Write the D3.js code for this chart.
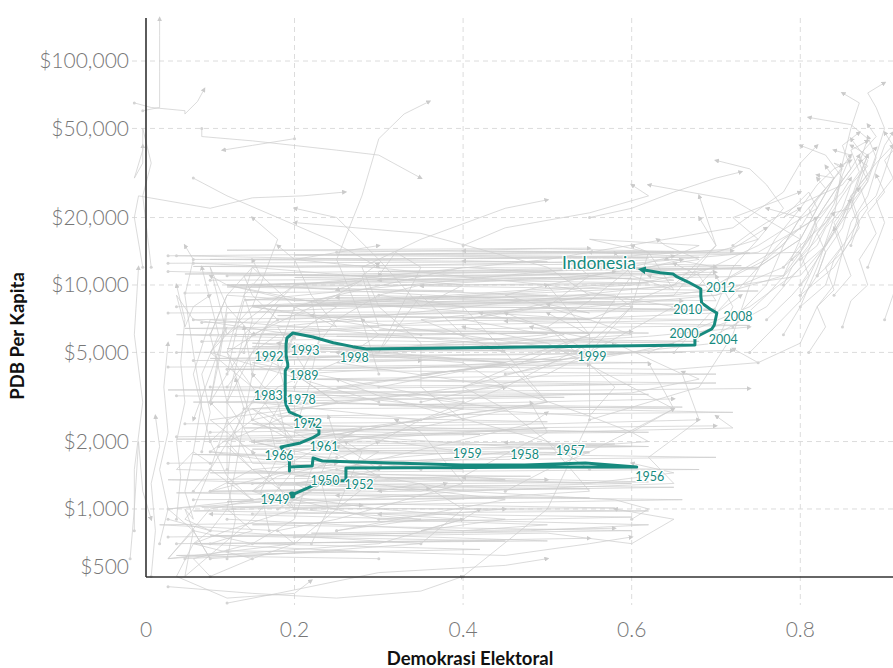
<!DOCTYPE html>
<html><head><meta charset="utf-8">
<script src="https://cdn.jsdelivr.net/npm/d3@7"></script>
<style>
html,body{margin:0;padding:0;background:#fff;}
svg{display:block;font-family:Lato,"Open Sans",sans-serif;}
</style></head>
<body><svg id="c" width="893" height="668"></svg>
<script>
// ---------- DATA ----------
const yTicks = [500, 1000, 2000, 5000, 10000, 20000, 50000, 100000];
const yTickLabels = ["$500","$1,000","$2,000","$5,000","$10,000","$20,000","$50,000","$100,000"];
const xTicks = [0, 0.2, 0.4, 0.6, 0.8];
const xTickLabels = ["0","0.2","0.4","0.6","0.8"];

const indoYears = d3.range(1949, 2019);
const indoDemo = [0.197,0.222,0.253,0.261,0.261,0.408,0.515,0.606,0.545,0.473,0.399,0.233,0.222,0.221,0.194,0.194,0.194,0.184,0.207,0.221,0.229,0.229,0.221,0.207,0.194,0.190,0.189,0.189,0.189,0.189,0.189,0.189,0.189,0.189,0.189,0.189,0.189,0.190,0.192,0.192,0.191,0.190,0.190,0.190,0.191,0.198,0.222,0.246,0.269,0.285,0.675,0.675,0.681,0.688,0.695,0.698,0.699,0.700,0.701,0.693,0.683,0.682,0.682,0.678,0.667,0.654,0.649,0.634,0.622,0.611];
const indoGdp = [1155,1271,1338,1338,1524,1532,1540,1540,1605,1572,1572,1638,1689,1556,1540,1478,1638,1892,1971,2075,2162,2253,2421,2575,2710,2913,3067,3196,3330,3470,3578,3728,3885,3925,4007,4090,4132,4217,4305,4439,4626,4870,5179,5452,5799,6105,5860,5526,5305,5179,5398,5799,5981,6168,6361,6628,6907,7197,7499,7814,8311,8932,9597,9797,10310,10857,11197,11348,11548,11727];
const labelYears = [1949,1950,1952,1956,1957,1958,1959,1961,1966,1972,1978,1983,1989,1992,1993,1998,1999,2000,2004,2008,2010,2012];

// rich democracies
const richPaths = [
 [[0.72,15000],[0.74,17000],[0.76,19000],[0.80,23000],[0.85,28000],[0.87,35000],[0.88,45000],[0.86,52000],[0.81,56000]],
 [[0.82,11000],[0.83,14000],[0.85,18000],[0.86,24000],[0.88,30000],[0.89,38000],[0.90,50000],[0.89,62000],[0.88,72000],[0.90,80000]],
 [[0.80,8000],[0.83,10000],[0.84,13000],[0.86,17000],[0.88,22000],[0.87,28000],[0.89,35000],[0.91,42000]],
 [[0.78,10000],[0.79,12000],[0.81,15000],[0.82,19000],[0.84,24000],[0.85,31000],[0.86,38000],[0.84,40000]],
 [[0.70,7500],[0.72,9000],[0.75,12000],[0.78,16000],[0.82,20000],[0.84,26000],[0.86,33000],[0.87,38000]],
 [[0.66,6000],[0.74,8000],[0.79,11000],[0.83,15000],[0.85,20000],[0.87,28000],[0.88,36000],[0.86,45000]],
 [[0.55,2500],[0.68,3500],[0.72,6000],[0.74,10000],[0.77,16000],[0.80,22000],[0.82,28000],[0.84,33000],[0.86,36000]],
 [[0.62,5000],[0.72,7000],[0.76,10000],[0.78,15000],[0.80,20000],[0.83,27000],[0.85,33000],[0.84,35000],[0.85,34000]],
 [[0.80,9000],[0.84,12000],[0.86,16000],[0.87,21000],[0.89,25000],[0.90,32000],[0.91,42000],[0.90,48000]],
 [[0.78,12000],[0.80,15000],[0.83,19000],[0.85,25000],[0.87,32000],[0.86,40000],[0.88,44000]],
 [[0.79,13000],[0.81,16000],[0.82,20000],[0.84,26000],[0.86,33000],[0.85,42000],[0.87,48000]],
 [[0.80,10000],[0.82,13000],[0.84,17000],[0.86,22000],[0.88,29000],[0.89,37000],[0.88,46000]],
 [[0.70,6000],[0.76,8000],[0.80,12000],[0.82,17000],[0.84,23000],[0.85,30000],[0.83,38000],[0.80,42000]],
 [[0.72,6500],[0.76,9000],[0.79,12000],[0.82,16000],[0.84,21000],[0.86,22000],[0.87,30000],[0.88,38000]],
 [[0.78,6000],[0.80,8000],[0.82,12000],[0.84,20000],[0.85,35000],[0.86,50000],[0.87,65000],[0.85,72000]],
 [[0.80,13000],[0.82,15000],[0.83,18000],[0.85,22000],[0.86,28000],[0.88,34000],[0.87,36000]],
 [[0.82,11000],[0.85,14000],[0.86,19000],[0.88,25000],[0.89,33000],[0.90,42000],[0.91,48000]],
 [[0.80,9000],[0.82,13000],[0.84,18000],[0.86,24000],[0.87,31000],[0.88,38000],[0.86,42000]],
 [[0.84,9000],[0.86,11000],[0.85,14000],[0.87,18000],[0.86,23000],[0.88,29000],[0.87,35000],[0.89,41000]],
 [[0.76,7000],[0.79,9000],[0.81,11000],[0.80,14000],[0.82,18000],[0.81,22000],[0.83,27000],[0.82,30000]],
 [[0.88,12000],[0.89,15000],[0.90,19000],[0.89,24000],[0.91,30000],[0.90,36000],[0.92,44000]],
 [[0.74,5000],[0.77,6500],[0.80,8500],[0.82,11000],[0.83,14000],[0.82,17000],[0.84,21000]],
 [[0.86,15000],[0.87,19000],[0.86,25000],[0.88,31000],[0.87,38000],[0.89,46000],[0.88,52000]],
 [[0.75,4500],[0.80,5500],[0.82,8000],[0.84,10000],[0.85,14000],[0.84,18000]],
 [[0.90,7000],[0.91,9000],[0.92,12000],[0.91,16000],[0.93,21000],[0.92,27000],[0.93,34000]],
 [[0.85,6500],[0.86,8500],[0.88,10000],[0.87,13000],[0.89,17000],[0.88,21000],[0.90,26000],[0.89,31000]],
 [[0.81,5000],[0.83,6500],[0.82,8000],[0.84,9500],[0.83,12000],[0.85,15000],[0.84,19000],[0.86,24000]],
 [[0.92,14000],[0.93,18000],[0.92,23000],[0.94,29000],[0.93,37000],[0.94,45000]]
];

// transitions and autocracies
const otherPaths = [
 [[0.12,4000],[0.13,6000],[0.14,8500],[0.55,12000],[0.75,14000],[0.80,18000],[0.82,24000],[0.84,30000],[0.82,31000]],
 [[0.10,3000],[0.11,4500],[0.12,7500],[0.65,9000],[0.80,11000],[0.83,15000],[0.85,20000],[0.86,25000],[0.87,27000]],
 [[0.45,3500],[0.55,5500],[0.60,8000],[0.15,10000],[0.75,12000],[0.80,16000],[0.82,22000],[0.81,26000],[0.78,20000],[0.80,22000]],
 [[0.25,1000],[0.30,1400],[0.20,2200],[0.22,3800],[0.18,6500],[0.65,10000],[0.75,15000],[0.82,22000],[0.84,30000],[0.86,38000]],
 [[0.12,1500],[0.12,3000],[0.14,6000],[0.20,10000],[0.50,13000],[0.72,18000],[0.78,26000],[0.80,35000],[0.82,42000]],
 [[0.65,5000],[0.70,8000],[0.72,12000],[0.75,16000],[0.78,22000],[0.76,28000],[0.74,33000],[0.70,36000]],
 [[0.18,7000],[0.15,9000],[0.14,11000],[0.75,12000],[0.80,16000],[0.82,22000],[0.84,30000],[0.83,34000]],
 [[0.15,4000],[0.16,6000],[0.18,8000],[0.70,9000],[0.78,11000],[0.80,16000],[0.72,24000],[0.62,28000]],
 [[0.45,4000],[0.60,5000],[0.65,5500],[0.15,6000],[0.12,8000],[0.70,10000],[0.78,15000],[0.80,20000],[0.76,22000]],
 [[0.60,8000],[0.58,9000],[0.20,8500],[0.12,10000],[0.70,10000],[0.76,13000],[0.80,18000],[0.82,20000]],
 [[0.35,6000],[0.15,8000],[0.50,9000],[0.12,10000],[0.60,11000],[0.65,9500],[0.62,14000],[0.55,16000],[0.68,15000],[0.64,13000]],
 [[0.15,10000],[0.78,11000],[0.80,14000],[0.82,20000],[0.85,26000],[0.86,30000]],
 [[0.30,2000],[0.35,2500],[0.40,2800],[0.15,3500],[0.12,5000],[0.18,7000],[0.55,8000],[0.70,9000],[0.78,12000],[0.80,14000],[0.65,13500],[0.55,14000]],
 [[0.20,3500],[0.22,5000],[0.25,7000],[0.30,9000],[0.35,10000],[0.55,11000],[0.68,13000],[0.64,15000],[0.63,16000]],
 [[0.35,2500],[0.50,3000],[0.45,4500],[0.25,5000],[0.50,6000],[0.40,7000],[0.55,9000],[0.50,12000],[0.35,17000],[0.20,19000]],
 [[0.60,900],[0.62,1000],[0.58,1100],[0.40,1200],[0.65,1300],[0.62,1700],[0.68,2500],[0.66,4000],[0.58,5500],[0.48,6500]],
 [[0.08,800],[0.07,1000],[0.08,900],[0.07,1200],[0.08,1800],[0.09,3000],[0.08,5000],[0.07,9000],[0.08,13000],[0.07,15000]],
 [[0.45,1200],[0.50,1500],[0.55,1800],[0.20,2200],[0.15,2400],[0.60,2200],[0.55,2600],[0.58,3500],[0.50,6500],[0.42,7500]],
 [[0.20,1200],[0.30,1500],[0.15,2000],[0.45,2800],[0.25,3500],[0.55,5000],[0.65,8000],[0.50,10000],[0.20,13000],[0.30,15000]],
 [[0.30,900],[0.20,1100],[0.15,1500],[0.40,1800],[0.20,2300],[0.15,2800],[0.45,3500],[0.25,4500],[0.35,4600]],
 [[0.25,800],[0.45,1100],[0.15,1500],[0.12,1900],[0.50,2300],[0.15,2000],[0.20,1800],[0.50,3000],[0.45,5000],[0.42,5300]],
 [[0.15,1100],[0.12,1400],[0.10,2000],[0.15,3000],[0.18,4000],[0.20,6000],[0.25,8000],[0.12,10000],[0.10,11000]],
 [[0.15,2500],[0.12,5000],[0.15,12000],[0.20,8000],[0.25,6500],[0.22,9000],[0.20,13000],[0.18,15000]],
 [[0.18,1000],[0.22,1200],[0.20,1300],[0.25,1400],[0.45,1350],[0.40,1400],[0.50,2200],[0.48,3000]],
 [[0.25,1500],[0.20,1400],[0.60,1300],[0.10,1200],[0.20,1500],[0.55,1800],[0.65,2800],[0.62,4500]],
 [[0.35,3000],[0.50,4000],[0.55,5000],[0.50,6500],[0.55,8500],[0.60,12000],[0.65,13500]],
 [[0.30,3500],[0.45,4500],[0.15,5500],[0.60,5000],[0.35,4000],[0.70,5500],[0.72,8000],[0.70,11000]],
 [[0.20,8000],[0.60,10000],[0.70,12000],[0.68,10000],[0.55,11000],[0.40,12000],[0.25,9000],[0.15,6000]],
 [[0.20,2000],[0.35,2500],[0.15,3000],[0.65,2800],[0.60,3500],[0.50,5500],[0.40,6500]],
 [[0.25,800],[0.35,900],[0.20,1000],[0.55,1200],[0.50,2000],[0.30,3200],[0.25,3800]],
 [[0.10,800],[0.12,1000],[0.13,1500],[0.14,2500],[0.15,4000],[0.14,6500]],
 [[0.10,500],[0.08,600],[0.15,700],[0.20,900],[0.22,1500],[0.30,2000]],
 [[0.55,1500],[0.50,2000],[0.45,2800],[0.40,3500],[0.55,6000],[0.50,10000],[0.58,11500]],
 [[0.40,2500],[0.35,3500],[0.35,5500],[0.30,8000],[0.28,12000],[0.35,16000],[0.45,22000],[0.50,24000]],
 [[0.22,4000],[0.23,6000],[0.22,8500],[0.25,9000],[0.70,8500],[0.68,11000],[0.65,12500]],
 [[0.10,6000],[0.12,9000],[0.15,12000],[0.40,10000],[0.35,8000],[0.30,13000],[0.25,20000],[0.20,22000]],
 [[0.12,3000],[0.10,6000],[0.12,9000],[0.55,7000],[0.65,10000],[0.70,15000],[0.68,20000]],
 [[0.30,9000],[0.40,8000],[0.45,5000],[0.35,7000],[0.50,8000],[0.55,7500],[0.50,8200]],
 [[0.10,1800],[0.15,2500],[0.18,3500],[0.25,4500],[0.30,6000],[0.28,7000]],
 [[0.12,3500],[0.15,5000],[0.18,6000],[0.30,6500],[0.28,11000],[0.30,12500]],
 [[0.05,900],[0.10,800],[0.08,700],[0.06,500],[0.12,400],[0.20,420],[0.22,480]],
 [[0.15,600],[0.20,700],[0.18,800],[0.25,900],[0.40,1300],[0.35,2200],[0.32,2500]],
 [[0.35,1500],[0.30,1600],[0.40,1700],[0.45,1800],[0.62,2000],[0.60,2200],[0.65,2800]],
 [[0.30,1500],[0.25,2000],[0.28,2300],[0.22,1800],[0.18,1500],[0.15,1200],[0.18,1400],[0.25,1600]],
 [[0.25,3000],[0.20,4000],[0.15,5000],[0.45,5500],[0.52,6000],[0.45,7500]],
 [[0.20,2000],[0.15,2500],[0.25,3000],[0.55,2600],[0.45,3500],[0.40,4500],[0.25,5000]],
 [[0.15,3000],[0.18,5000],[0.20,8000],[0.25,9000],[0.28,10500],[0.25,9500]],
 [[0.20,2000],[0.15,3500],[0.10,5000],[0.12,6500],[0.10,4000],[0.08,2500]],
 [[0.10,3000],[0.12,8000],[0.10,12000],[0.12,6000],[0.20,10000],[0.35,11000],[0.30,10500]],
 [[0.10,1600],[0.08,1800],[0.06,1500],[0.40,1400],[0.20,1300],[0.35,1200],[0.38,1300]],
 [[0.20,1000],[0.18,1100],[0.15,1200],[0.30,1000],[0.45,900],[0.35,800],[0.40,900]],
 [[0.05,1000],[0.08,800],[0.10,600],[0.35,700],[0.40,1000],[0.35,1300],[0.30,1200]],
 [[0.15,700],[0.08,800],[0.05,600],[0.20,700],[0.25,1000],[0.28,1800],[0.26,2000]],
 [[0.35,700],[0.10,800],[0.07,900],[0.08,1000],[0.10,1500],[0.15,3000],[0.45,4500],[0.18,5500]],
 [[0.10,600],[0.08,800],[0.07,500],[0.15,900],[0.20,1500],[0.18,3000],[0.15,4000]],
 [[0.40,3000],[0.15,4500],[0.60,6000],[0.55,7000],[0.45,9000],[0.50,10000]],
 [[0.10,3000],[0.12,4000],[0.15,6000],[0.40,7000],[0.50,8000],[0.55,11000],[0.53,12500]],
 [[0.15,2000],[0.12,3000],[0.15,5000],[0.18,8000],[0.65,10500],[0.62,11000]],
 [[0.15,1800],[0.10,2500],[0.40,3500],[0.55,5000],[0.60,8000],[0.62,14000],[0.60,15000]],
 [[0.30,3000],[0.10,5000],[0.15,8000],[0.65,9000],[0.70,15000],[0.68,25000]],
 [[0.10,2000],[0.08,4000],[0.10,7000],[0.55,5000],[0.15,8000],[0.18,16000],[0.15,20000]],
 [[0.40,500],[0.50,1000],[0.55,2500],[0.55,6000],[0.60,11000],[0.58,14000]],
 [[0.20,6000],[0.08,7000],[0.06,9000],[0.07,6500],[0.08,8000],[0.10,9000]],
 [[0.08,1200],[0.10,1500],[0.15,1100],[0.05,1000],[0.20,1100],[0.30,1800],[0.25,1900]],
 [[0.30,1400],[0.10,1800],[0.40,1500],[0.15,1600],[0.12,2500],[0.10,3000]],
 [[0.10,1200],[0.15,1500],[0.12,2000],[0.18,2500],[0.20,2700]],
 [[0.10,1500],[0.12,2500],[0.15,2800],[0.20,2000],[0.35,2500],[0.45,3500]],
 [[0.20,1200],[0.10,1000],[0.05,600],[0.30,700],[0.40,900],[0.42,1000]],
 [[0.12,900],[0.40,800],[0.50,850],[0.30,900],[0.45,1000]],
 [[0.10,700],[0.15,800],[0.12,1000],[0.40,1200],[0.25,1500],[0.48,2400],[0.50,2700]],
 [[0.10,500],[0.15,600],[0.08,700],[0.12,800],[0.20,1000],[0.15,1800]],
 [[0.25,3000],[0.20,4000],[0.45,4500],[0.55,6000],[0.50,7500]],
 [[0.40,6000],[0.35,9000],[0.30,5000],[0.35,12000],[0.32,14000],[0.30,11000]],
 [[0.30,4000],[0.28,7000],[0.25,13000],[0.28,25000],[0.30,45000],[0.33,58000],[0.36,66000]],
 [[0.02,60000],[0.04,62000],[0.04,90000],[0.04,130000],[0.04,155000]],
 [[0.01,65000],[0.03,62000],[0.07,60000],[0.07,58000],[0.085,66000],[0.093,75000]],
 [[0.09,50000],[0.09,46000],[0.15,44000],[0.25,40000],[0.30,38000],[0.35,30000]],
 [[0.20,45000],[0.15,42000],[0.115,40000]],
 [[0.08,30000],[0.12,25000],[0.18,20000],[0.24,16000],[0.30,12000]],
 [[0.02,12000],[0.01,20000],[0.015,25000],[0.10,22000],[0.15,24500],[0.21,25000],[0.26,26000]],
 [[0.03,12000],[0.02,25000],[0.03,35000],[0.02,50000],[0.02,40000],[0.01,30000],[0.02,35000],[0.02,42000]],
 [[0.01,800],[0.01,1500],[0.02,3000],[0.01,6000],[0.015,12000]],
 [[0.005,600],[0.01,1000],[0.015,2000],[0.02,1200],[0.03,900]],
 [[0.55,20000],[0.60,22000],[0.65,26000],[0.70,30000],[0.73,32000]],
 [[0.40,15000],[0.45,18000],[0.55,21000],[0.62,25000],[0.60,28000]],
 [[0.25,14000],[0.50,14500],[0.70,14000],[0.75,16000],[0.72,20000],[0.80,26000]],
 [[0.06,13500],[0.30,13000],[0.60,13500],[0.72,14500],[0.76,18000]],
 [[0.08,12500],[0.20,12000],[0.45,12500],[0.65,13000],[0.70,12000]],
 [[0.05,11500],[0.25,11000],[0.50,11500],[0.62,12000],[0.66,13000]],
 [[0.07,600],[0.25,650],[0.45,620],[0.55,700],[0.60,750]],
 [[0.05,450],[0.15,420],[0.25,400],[0.35,430],[0.40,500]],
 [[0.12,380],[0.18,420],[0.30,520],[0.45,560],[0.50,600]],
 [[0.20,750],[0.50,780],[0.60,700],[0.65,900],[0.58,1000]],
 [[0.15,1300],[0.35,1350],[0.55,1300],[0.65,1450],[0.60,1600]],
 [[0.10,2200],[0.30,2250],[0.50,2200],[0.72,2300],[0.70,2600]],
 [[0.12,4200],[0.40,4300],[0.65,4200],[0.75,4500],[0.72,5200]],
 [[0.08,7000],[0.30,7200],[0.55,7100],[0.70,7500],[0.73,9000]],
 [[0.06,3200],[0.35,3100],[0.60,3300],[0.68,3800],[0.66,4100]],
 [[0.09,5600],[0.22,5700],[0.48,5500],[0.62,5900],[0.74,6500]],
 [[0.06,700],[0.45,720],[0.10,760],[0.60,800],[0.15,850],[0.40,900],[0.30,950]],
 [[0.08,1100],[0.55,1120],[0.20,1180],[0.65,1250],[0.12,1300],[0.50,1350]],
 [[0.05,1600],[0.35,1650],[0.70,1700],[0.25,1800],[0.60,1900],[0.15,2000]],
 [[0.07,2400],[0.50,2450],[0.18,2600],[0.72,2700],[0.30,2900],[0.65,3100]],
 [[0.10,3500],[0.60,3600],[0.20,3800],[0.70,4000],[0.12,4200],[0.55,4400]],
 [[0.06,5000],[0.45,5100],[0.15,5300],[0.68,5600],[0.25,5900],[0.60,6200]],
 [[0.09,6800],[0.55,7000],[0.18,7300],[0.70,7700],[0.30,8100],[0.66,8500]],
 [[0.07,9200],[0.40,9400],[0.12,9800],[0.62,10200],[0.20,10800],[0.70,11400]],
 [[0.05,12500],[0.50,12700],[0.10,13000],[0.68,13300],[0.25,13700],[0.72,14200]],
 [[0.12,650],[0.30,640],[0.08,700],[0.50,720],[0.22,780],[0.58,820]],
 [[0.15,950],[0.62,980],[0.09,1020],[0.40,1060],[0.66,1100],[0.25,1150]],
 [[0.20,1300],[0.05,1350],[0.48,1400],[0.10,1450],[0.68,1500],[0.30,1550]],
 [[0.11,1900],[0.58,1950],[0.06,2050],[0.42,2150],[0.20,2250],[0.70,2350]],
 [[0.14,2800],[0.66,2850],[0.08,3000],[0.52,3150],[0.22,3300],[0.74,3450]],
 [[0.05,4300],[0.30,4350],[0.62,4500],[0.10,4700],[0.50,4900],[0.72,5100]],
 [[0.13,6000],[0.55,6100],[0.07,6400],[0.45,6700],[0.70,7000],[0.22,7300]],
 [[0.06,8000],[0.65,8200],[0.14,8600],[0.52,9000],[0.75,9400],[0.35,9900]],
 [[0.10,10500],[0.60,10700],[0.07,11200],[0.45,11700],[0.73,12200],[0.40,12800]],
 [[0.05,13500],[0.35,13800],[0.65,14000],[0.12,14300],[0.55,14600]],
 [[0.18,800],[0.04,850],[0.35,880],[0.60,920],[0.08,980],[0.28,1040]],
 [[0.10,1200],[0.30,1220],[0.55,1230],[0.18,1280],[0.62,1320],[0.40,1380]],
 [[0.25,1700],[0.08,1750],[0.55,1780],[0.15,1850],[0.62,1900],[0.45,1980]],
 [[0.06,2100],[0.28,2150],[0.62,2200],[0.14,2300],[0.50,2400],[0.68,2500]],
 [[0.16,3200],[0.62,3250],[0.05,3400],[0.40,3500],[0.70,3650],[0.20,3800]],
 [[0.08,4600],[0.52,4650],[0.18,4800],[0.66,5000],[0.12,5200],[0.58,5400]],
 [[0.20,5800],[0.06,6000],[0.62,6100],[0.30,6300],[0.74,6600],[0.45,6900]],
 [[0.05,7500],[0.42,7600],[0.70,7800],[0.15,8100],[0.58,8400],[0.25,8800]],
 [[0.12,11000],[0.70,11100],[0.30,11500],[0.75,11800],[0.08,12100],[0.60,12400]],
 [[0.08,13000],[0.62,13200],[0.20,13600],[0.74,13900],[0.40,14200]],
 [[0.30,600],[0.06,620],[0.42,660],[0.15,700],[0.55,740]],
 [[0.05,750],[0.20,760],[0.48,800],[0.62,850],[0.35,900],[0.10,950]],
 [[0.22,1000],[0.58,1010],[0.12,1080],[0.45,1120],[0.06,1180],[0.36,1230]],
 [[0.04,700],[0.05,1000],[0.04,1500],[0.05,2200],[0.045,3500],[0.05,5500]],
 [[0.06,900],[0.065,1400],[0.06,2000],[0.07,3000],[0.065,4500],[0.07,7000],[0.06,10000]],
 [[0.12,600],[0.13,900],[0.12,1300],[0.125,2000],[0.14,2800],[0.13,3800]],
 [[0.17,800],[0.16,1200],[0.18,1700],[0.17,2400],[0.19,3300],[0.18,4500],[0.20,6000]],
 [[0.09,1800],[0.10,2700],[0.09,4000],[0.11,6000],[0.10,8500],[0.09,12000]],
 [[0.22,700],[0.24,1000],[0.23,1400],[0.25,2000],[0.24,2600]],
 [[0.03,500],[0.035,800],[0.03,1300],[0.04,1900],[0.035,2600]],
 [[0.14,5000],[0.15,7000],[0.14,9000],[0.16,11000],[0.15,13000]]
];

// ---------- LAYOUT ----------
const W = 893, H = 668;
const plotLeft = 146, plotTop = 18, plotBottom = 577;
const x = d3.scaleLinear().domain([0, 1]).range([125.9, 968.9]);
const y = d3.scaleLog().domain([500, 100000]).range([576.4, 61]);
const teal = "#168a7e";
const grey = "#cdcdcd";

const svg = d3.select("#c");
const defs = svg.append("defs");
defs.append("marker").attr("id","ag").attr("viewBox","0 0 10 10").attr("refX",6).attr("refY",5)
  .attr("markerWidth",5).attr("markerHeight",5).attr("markerUnits","userSpaceOnUse").attr("orient","auto")
  .append("path").attr("d","M0,0 L10,5 L0,10 z").attr("fill","#cbcbcb");
defs.append("marker").attr("id","at").attr("viewBox","0 0 10 10").attr("refX",6).attr("refY",5)
  .attr("markerWidth",8).attr("markerHeight",8).attr("markerUnits","userSpaceOnUse").attr("orient","auto")
  .append("path").attr("d","M0,0 L10,5 L0,10 z").attr("fill",teal);

// gridlines
const grid = svg.append("g").attr("stroke","#dcdcdc").attr("stroke-width",1).attr("stroke-dasharray","5,4");
grid.selectAll("line.h").data(yTicks.filter(v => v > 500)).join("line")
  .attr("x1", 132).attr("x2", W).attr("y1", d => y(d)).attr("y2", d => y(d));
grid.selectAll("line.v").data(xTicks.filter(v => v > 0)).join("line")
  .attr("x1", d => x(d)).attr("x2", d => x(d)).attr("y1", plotTop).attr("y2", 605);

// grey paths
const line = d3.line().x(d => x(d[0])).y(d => y(d[1]));
const allGrey = richPaths.concat(otherPaths);
const gp = svg.append("g");
gp.selectAll("path").data(allGrey).join("path")
  .attr("d", line).attr("fill","none").attr("stroke", grey).attr("stroke-width",0.9)
  .attr("stroke-opacity",0.8).attr("marker-end","url(#ag)");
gp.selectAll("circle").data(allGrey).join("circle")
  .attr("cx", d => x(d[0][0])).attr("cy", d => y(d[0][1])).attr("r",1.5).attr("fill","#d4d4d4");

// axes lines
svg.append("line").attr("x1",plotLeft).attr("x2",plotLeft).attr("y1",plotTop).attr("y2",plotBottom)
  .attr("stroke","#333").attr("stroke-width",1.6);
svg.append("line").attr("x1",plotLeft).attr("x2",W).attr("y1",plotBottom).attr("y2",plotBottom)
  .attr("stroke","#333").attr("stroke-width",1.6);

// tick labels
svg.append("g").selectAll("text").data(yTicks).join("text")
  .attr("x", 129).attr("y", d => Math.min(y(d), 567)).attr("dy","0.35em")
  .attr("text-anchor","end").attr("font-size",21).attr("font-weight",300).attr("fill","#777")
  .text((d,i) => yTickLabels[i]);
svg.append("g").selectAll("text").data(xTicks).join("text")
  .attr("x", d => Math.max(x(d), plotLeft)).attr("y", 630).attr("dy","0.35em")
  .attr("text-anchor","middle").attr("font-size",21).attr("font-weight",300).attr("fill","#777")
  .text((d,i) => xTickLabels[i]);

// axis titles
svg.append("text").attr("x", 470).attr("y", 665).attr("text-anchor","middle")
  .attr("font-size",18.5).attr("font-weight",700).attr("fill","#111").text("Demokrasi Elektoral");
svg.append("text").attr("transform","translate(24,336) rotate(-90)").attr("text-anchor","middle")
  .attr("font-size",18.5).attr("font-weight",700).attr("fill","#111").text("PDB Per Kapita");

// Indonesia
const indo = indoYears.map((yr,i) => ({year: yr, demo: indoDemo[i], gdp: indoGdp[i]}));
const iline = d3.line().x(d => x(d.demo)).y(d => y(d.gdp));
svg.append("path").datum(indo).attr("d", iline).attr("fill","none").attr("stroke",teal)
  .attr("stroke-width",3).attr("stroke-linejoin","round").attr("marker-end","url(#at)");
svg.append("circle").attr("cx", x(indo[0].demo)).attr("cy", y(indo[0].gdp)).attr("r",3.5).attr("fill",teal);

// year labels (nudged like a repel layout)
const labelNudge = {1949:[-17,5],1950:[12,-5],1952:[13,4],1956:[13,10],1957:[-15,-12],1958:[0,-10],1959:[5,-11],
  1961:[11,-11],1966:[-2,9],1972:[7,7],1978:[16,12],1983:[-17,22],1989:[17,16],1992:[-17,13],1993:[18,13],
  1998:[-12,9],1999:[-103,12],2000:[-11,-4],2004:[9,15],2008:[28,8],2010:[-13,14],2012:[23,1]};
const lab = svg.append("g").attr("font-size",12.5).attr("fill",teal).attr("text-anchor","middle")
  .attr("stroke","#fff").attr("stroke-width",2.5).attr("paint-order","stroke").attr("stroke-linejoin","round");
lab.selectAll("text").data(indo.filter(d => labelYears.includes(d.year))).join("text")
  .attr("x", d => x(d.demo) + labelNudge[d.year][0])
  .attr("y", d => y(d.gdp) + labelNudge[d.year][1]).attr("dy","0.35em")
  .text(d => d.year);
const last = indo[indo.length-1];
lab.append("text").attr("x", x(last.demo) - 42).attr("y", y(last.gdp) - 7).attr("dy","0.35em")
  .attr("font-size",17.5).text("Indonesia");
</script></body></html>
